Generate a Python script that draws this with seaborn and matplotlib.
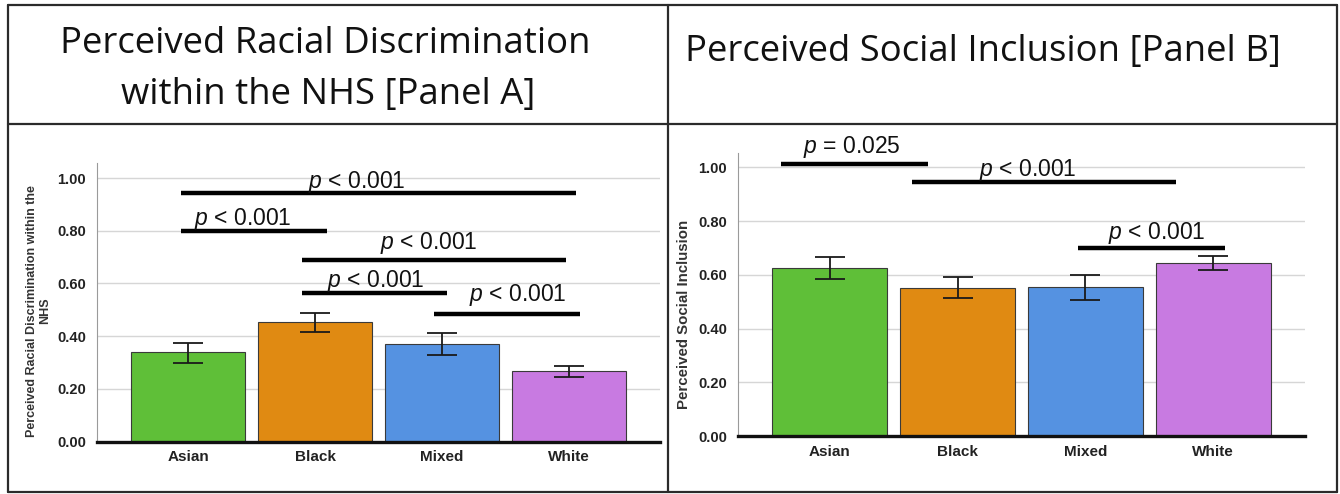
import matplotlib
matplotlib.use("Agg")
import matplotlib.pyplot as plt
import seaborn as sns
import pandas as pd
import numpy as np
from matplotlib.lines import Line2D

# ---- data -------------------------------------------------------------
groups = ["Asian", "Black", "Mixed", "White"]
palette = ["#5FBF38", "#E08A12", "#5592E1", "#C87AE1"]

disc_mean = [0.340, 0.453, 0.371, 0.267]
disc_lo = [0.300, 0.417, 0.330, 0.245]
disc_hi = [0.375, 0.487, 0.413, 0.288]

incl_mean = [0.625, 0.553, 0.554, 0.645]
incl_lo = [0.584, 0.515, 0.508, 0.619]
incl_hi = [0.665, 0.592, 0.598, 0.670]

yticks = [0.0, 0.2, 0.4, 0.6, 0.8, 1.0]

# pairwise comparisons: (from, to, bar height, label, label x, label baseline)
disc_pairs = [
    (-0.06, 3.06, 0.943, "< 0.001", 1.33, 0.964),
    (-0.06, 1.09, 0.798, "< 0.001", 0.43, 0.822),
    (0.90, 2.98, 0.688, "< 0.001", 1.90, 0.732),
    (0.90, 2.04, 0.564, "< 0.001", 1.48, 0.585),
    (1.94, 3.09, 0.486, "< 0.001", 2.60, 0.533),
]
incl_pairs = [
    (-0.38, 0.77, 1.012, "= 0.025", 0.17, 1.052),
    (0.64, 2.71, 0.944, "< 0.001", 1.55, 0.969),
    (1.94, 3.09, 0.700, "< 0.001", 2.56, 0.735),
]

# ---- style ------------------------------------------------------------
sns.set_style("white")
plt.rcParams["font.family"] = ["Liberation Sans", "DejaVu Sans"]
plt.rcParams["mathtext.fontset"] = "custom"
plt.rcParams["mathtext.rm"] = "Liberation Sans"
plt.rcParams["mathtext.it"] = "Liberation Sans:italic"

W, H = 1340, 494
fig = plt.figure(figsize=(W / 100, H / 100), dpi=100)
fig.patch.set_facecolor("white")


def px_rect(left, top, right, bottom):
    return [left / W, 1 - bottom / H, (right - left) / W, (bottom - top) / H]


def draw_panel(ax, means, lo, hi, pairs, ytop, ylabel, ylabel_size, label_x, label_y):
    df = pd.DataFrame({"group": groups, "value": means})
    sns.barplot(data=df, x="group", y="value", hue="group", palette=palette,
                width=0.9, edgecolor="#3a3a3a", linewidth=0.8, saturation=1,
                errorbar=None, legend=False, ax=ax)
    pos = np.arange(len(groups))
    m = np.array(means)
    yerr = np.vstack([m - np.array(lo), np.array(hi) - m])
    ax.errorbar(pos, m, yerr=yerr, fmt="none", ecolor="#1a1a1a",
                elinewidth=1.3, capsize=11, capthick=1.3, zorder=4)

    for x0, x1, y, lab, tx, ty in pairs:
        ax.plot([x0, x1], [y, y], color="black", lw=3.2,
                solid_capstyle="butt", clip_on=False, zorder=5)
        ax.text(tx, ty, r"$\it{p}$" + " " + lab, ha="center", va="baseline",
                fontsize=16.5, color="#111111", clip_on=False, zorder=6)

    ax.set_xlim(-0.72, 3.72)
    ax.set_ylim(0, ytop)
    ax.set_yticks(yticks)
    ax.set_yticklabels([f"{v:.2f}" for v in yticks], fontweight="bold",
                       fontsize=10.5, color="#222222")
    ax.set_xticks(pos)
    ax.set_xticklabels(groups, fontweight="bold", fontsize=11, color="#222222")
    ax.tick_params(axis="x", length=0, pad=6)
    ax.tick_params(axis="y", length=4, width=0.8, color="#888888", pad=4)
    ax.yaxis.grid(True, color="#d6d6d6", lw=1.0)
    ax.set_axisbelow(True)
    for s in ("top", "right"):
        ax.spines[s].set_visible(False)
    ax.spines["left"].set_color("#9a9a9a")
    ax.spines["left"].set_linewidth(0.8)
    ax.spines["bottom"].set_color("#111111")
    ax.spines["bottom"].set_linewidth(2.4)
    ax.set_xlabel("")
    ax.set_ylabel(ylabel, fontweight="bold", fontsize=ylabel_size,
                  color="#333333", linespacing=1.05)
    ax.yaxis.set_label_coords(label_x, label_y)


ax_a = fig.add_axes(px_rect(97, 163, 660, 441.7))
draw_panel(ax_a, disc_mean, disc_lo, disc_hi, disc_pairs, 1.057,
           "Perceived Racial Discrimination within the\nNHS", 9, -0.082, 0.47)

ax_b = fig.add_axes(px_rect(738, 153, 1305, 436.3))
draw_panel(ax_b, incl_mean, incl_lo, incl_hi, incl_pairs, 1.053,
           "Perceived Social Inclusion", 10.8, -0.083, 0.43)

# ---- header cells and frame -------------------------------------------
title_kw = dict(fontsize=26.3, color="#111111", family=["Open Sans", "DejaVu Sans"])
fig.text(325 / W, 1 - 53 / H, "Perceived Racial Discrimination",
         ha="center", va="baseline", **title_kw)
fig.text(328 / W, 1 - 104 / H, "within the NHS [Panel A]",
         ha="center", va="baseline", **title_kw)
fig.text(685 / W, 1 - 61 / H, "Perceived Social Inclusion [Panel B]",
         ha="left", va="baseline", **title_kw)

frame_kw = dict(color="#2b2b2b", lw=1.6, transform=fig.transFigure)
L, R, T, B, MX, MY = 8, 1337, 5, 492, 668, 124
for (xa, ya), (xb, yb) in [((L, T), (R, T)), ((L, B), (R, B)),
                           ((L, T), (L, B)), ((R, T), (R, B)),
                           ((MX, T), (MX, B)), ((L, MY), (R, MY))]:
    fig.add_artist(Line2D([xa / W, xb / W], [1 - ya / H, 1 - yb / H], **frame_kw))

fig.savefig("out.png", dpi=100, facecolor="white")
